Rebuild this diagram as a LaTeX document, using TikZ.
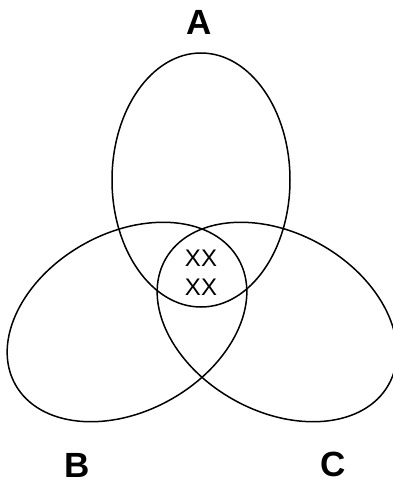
\documentclass[tikz,border=0pt]{standalone}
\usepackage{fontspec}
\setsansfont{Liberation Sans}
\usepackage{tikz}
\usetikzlibrary{positioning}

\begin{document}
\begin{tikzpicture}[
    x=1pt, y=-1pt,
    font=\sffamily,
    setline/.style={
      draw=black,
      line width=1.5pt,
    },
    setlabel/.style={
      inner sep=0pt,
      font=\sffamily\bfseries\fontsize{35}{35}\selectfont,
    },
    marks/.style={
      inner sep=0pt,
      align=center,
      font=\sffamily\fontsize{24}{29}\selectfont,
    },
  ]
    \useasboundingbox (0,0) rectangle (392,483);

    % set centres
    \coordinate (cA) at (201,180);
    \coordinate (cB) at (127,322);
    \coordinate (cC) at (277,322);

    \draw[setline] (cA) ellipse [x radius=89pt, y radius=127pt];
    \draw[setline, rotate around={29.3:(cB)}]
      (cB) ellipse [x radius=128pt, y radius=89pt];
    \draw[setline, rotate around={-29.3:(cC)}]
      (cC) ellipse [x radius=128pt, y radius=89pt];

    \node[setlabel] (labA) at (199,22) {A};
    \node[setlabel] (labB) at (77,465) {B};
    \node[setlabel] (labC) at (333,464) {C};

    \node[marks] (core) at (201,272.5) {XX\\XX};
  \end{tikzpicture}
\end{document}
